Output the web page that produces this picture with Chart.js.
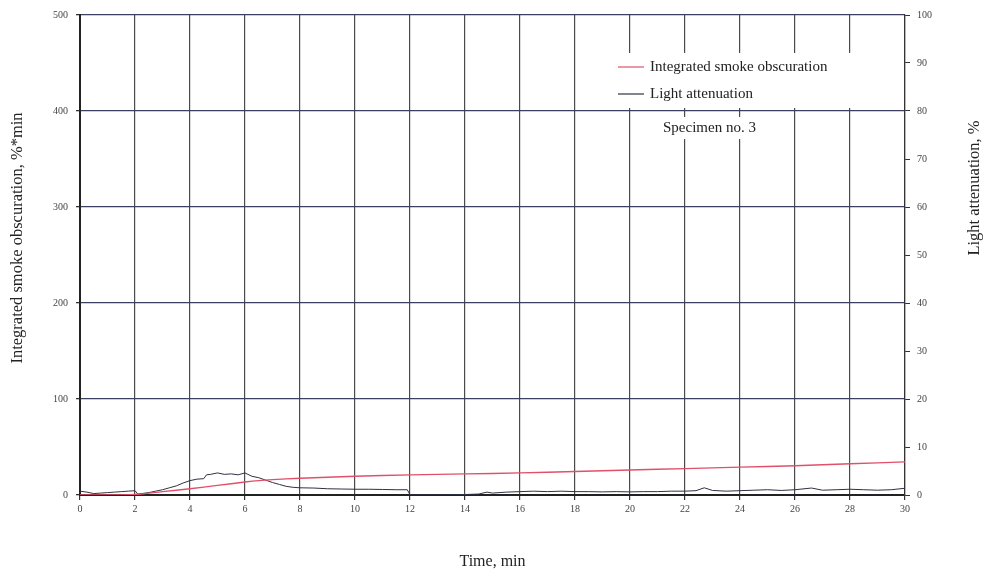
<!DOCTYPE html>
<html>
<head>
<meta charset="utf-8">
<script src="https://cdn.jsdelivr.net/npm/chart.js@4.4.1/dist/chart.umd.min.js"></script>
<style>
  html, body { margin: 0; padding: 0; background: #fff; }
  #wrap { width: 987px; height: 572px; position: relative; }
</style>
</head>
<body>
<div id="wrap"><canvas id="c" width="987" height="572"></canvas></div>
<script>
// ---- Data ----
const seriesLabels = ['Integrated smoke obscuration', 'Light attenuation'];

// Integrated smoke obscuration, %*min (left axis)
const timeISO = [0, 1, 2, 3, 4, 5, 6, 6.5, 7, 8, 9, 10, 12, 14, 16, 18, 20, 22, 24, 26, 28, 30];
const smokeObs = [0, 0, 0.5, 3.5, 6.5, 10, 13.5, 15, 16, 17.5, 18.5, 19.5, 21, 22, 23, 24.5, 26, 27.5, 29, 30.5, 32.5, 34.5];

// Light attenuation, % (right axis)
const timeLA = [0, 0.25, 0.5, 0.75, 1, 1.25, 1.5, 1.75, 2, 2.1, 2.25, 2.5, 2.75, 3, 3.25, 3.5, 3.75, 4, 4.25, 4.5, 4.6, 4.75, 5, 5.25, 5.5, 5.75, 6, 6.25, 6.5, 6.75, 7, 7.25, 7.5, 7.75, 8, 8.5, 9, 9.5, 10, 10.5, 11, 11.5, 11.9, 12, 13, 14, 14.5, 14.8, 15, 15.5, 16, 16.5, 17, 17.5, 18, 18.5, 19, 19.5, 20, 20.5, 21, 21.5, 22, 22.4, 22.7, 23, 23.5, 24, 24.5, 25, 25.5, 26, 26.6, 27, 27.5, 28, 28.5, 29, 29.5, 30];
const lightAtt = [0.8, 0.6, 0.3, 0.4, 0.5, 0.6, 0.7, 0.8, 0.9, 0.2, 0.3, 0.5, 0.8, 1.1, 1.5, 1.9, 2.5, 3.0, 3.3, 3.4, 4.2, 4.3, 4.6, 4.3, 4.4, 4.2, 4.6, 3.9, 3.6, 3.1, 2.6, 2.2, 1.8, 1.6, 1.5, 1.45, 1.3, 1.25, 1.2, 1.2, 1.15, 1.1, 1.1, 0.05, 0.05, 0.1, 0.2, 0.6, 0.4, 0.6, 0.7, 0.8, 0.7, 0.8, 0.7, 0.7, 0.65, 0.7, 0.65, 0.7, 0.7, 0.8, 0.8, 0.9, 1.5, 0.95, 0.8, 0.9, 1.0, 1.1, 0.95, 1.1, 1.45, 1.0, 1.1, 1.2, 1.1, 1.0, 1.1, 1.4];

// Axis ticks
const xTicks = [0, 2, 4, 6, 8, 10, 12, 14, 16, 18, 20, 22, 24, 26, 28, 30];
const yLeftTicks = [0, 100, 200, 300, 400, 500];
const yRightTicks = [0, 10, 20, 30, 40, 50, 60, 70, 80, 90, 100];

const noteText = 'Specimen no. 3';
const xTitle = 'Time, min';
const yLeftTitle = 'Integrated smoke obscuration, %*min';
const yRightTitle = 'Light attenuation, %';

// ---- Styles ----
const serif = '"Liberation Serif", "DejaVu Serif", serif';
const redColor = '#e0506a';
const darkColor = '#2e3142';

const toPts = (xs, ys) => xs.map((x, i) => ({ x: x, y: ys[i] }));

const overlayPlugin = {
  id: 'overlay',
  afterDatasetsDraw(chart) {
    const { ctx, chartArea: a } = chart;
    ctx.save();
    // legend box
    const bx = a.left + 533, by = a.top + 38, bw = 265, bh = 55;
    ctx.fillStyle = '#ffffff';
    ctx.fillRect(bx, by, bw, bh);
    ctx.font = '15px ' + serif;
    ctx.textBaseline = 'middle';
    ctx.textAlign = 'left';
    const items = chart.data.datasets;
    items.forEach((ds, i) => {
      const yy = by + 14 + i * 27;
      ctx.strokeStyle = ds.borderColor;
      ctx.lineWidth = 1.2;
      ctx.beginPath();
      ctx.moveTo(bx + 5, yy);
      ctx.lineTo(bx + 31, yy);
      ctx.stroke();
      ctx.fillStyle = '#222';
      ctx.fillText(ds.label, bx + 37, yy);
    });
    // specimen note
    const nx = a.left + 583, ny = a.top + 113;
    const tw = ctx.measureText(noteText).width;
    ctx.fillStyle = '#ffffff';
    ctx.fillRect(nx - 3, ny - 11, tw + 6, 22);
    ctx.fillStyle = '#222';
    ctx.fillText(noteText, nx, ny);
    ctx.restore();
  },
  afterDraw(chart) {
    const { ctx } = chart;
    ctx.save();
    ctx.font = '16.5px ' + serif;
    ctx.fillStyle = '#222';
    ctx.textAlign = 'center';
    ctx.textBaseline = 'middle';
    ctx.translate(18, 238);
    ctx.rotate(-Math.PI / 2);
    ctx.fillText(yLeftTitle, 0, 0);
    ctx.restore();
    ctx.save();
    ctx.font = '16.5px ' + serif;
    ctx.fillStyle = '#222';
    ctx.textAlign = 'center';
    ctx.textBaseline = 'middle';
    ctx.translate(975, 188);
    ctx.rotate(-Math.PI / 2);
    ctx.fillText(yRightTitle, 0, 0);
    ctx.restore();
  }
};

new Chart(document.getElementById('c'), {
  type: 'line',
  data: {
    datasets: [
      {
        label: seriesLabels[0],
        data: toPts(timeISO, smokeObs),
        borderColor: redColor,
        borderWidth: 1.4,
        pointRadius: 0,
        tension: 0.3,
        yAxisID: 'y'
      },
      {
        label: seriesLabels[1],
        data: toPts(timeLA, lightAtt),
        borderColor: darkColor,
        borderWidth: 1,
        pointRadius: 0,
        tension: 0,
        yAxisID: 'y2'
      }
    ]
  },
  options: {
    responsive: false,
    animation: false,
    layout: { padding: { top: 15, left: 0, right: 0, bottom: 0 } },
    plugins: { legend: { display: false }, tooltip: { enabled: false } },
    scales: {
      x: {
        type: 'linear',
        min: 0, max: 30,
        afterBuildTicks: s => { s.ticks = xTicks.map(v => ({ value: v })); },
        afterFit: s => { s.height = 77; },
        grid: { color: '#4a4a4a', lineWidth: 1.2, tickLength: 5, drawTicks: true, tickColor: '#333' },
        border: { color: '#222', width: 2 },
        ticks: { color: '#444', font: { family: serif, size: 10 }, padding: 3, maxRotation: 0 },
        title: { display: true, text: xTitle, color: '#222', font: { family: serif, size: 16 }, padding: { bottom: 1 } }
      },
      y: {
        position: 'left',
        min: 0, max: 500,
        afterBuildTicks: s => { s.ticks = yLeftTicks.map(v => ({ value: v })); },
        afterFit: s => { s.width = 80; },
        grid: { color: '#3d3f62', lineWidth: 1.3, tickLength: 4, tickColor: '#333' },
        border: { color: '#222', width: 2 },
        ticks: { color: '#444', font: { family: serif, size: 10 }, padding: 8 }
      },
      y2: {
        position: 'right',
        min: 0, max: 100,
        afterBuildTicks: s => { s.ticks = yRightTicks.map(v => ({ value: v })); },
        afterFit: s => { s.width = 82; },
        grid: { drawOnChartArea: false, tickLength: 5, tickColor: '#333' },
        border: { color: '#333', width: 1.2 },
        ticks: { color: '#444', font: { family: serif, size: 10 }, padding: 7 }
      }
    }
  },
  plugins: [overlayPlugin]
});
</script>
</body>
</html>
